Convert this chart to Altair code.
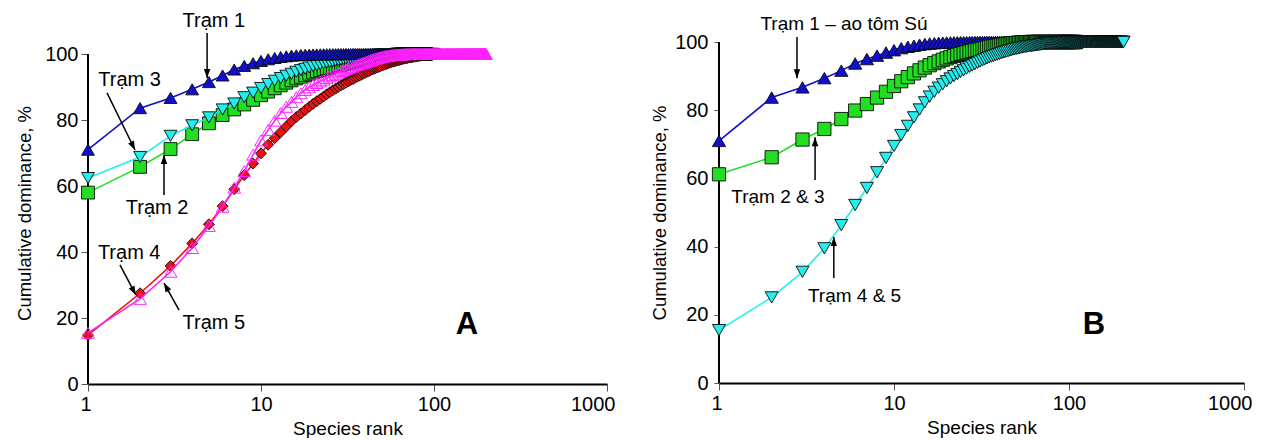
import math
import altair as alt
import pandas as pd

FONT = "Liberation Sans"

RANK_TICKS = [1, 10, 100, 1000]
PCT_TICKS = [0, 20, 40, 60, 80, 100]

# ---------------- Panel A (cumulative dominance, % by species rank) ----------------
A_TRAM1 = [71.0, 83.6, 86.7, 89.3, 91.5, 93.5, 95.3, 96.4, 97.2, 97.9,
           98.4, 98.8, 99.1, 99.3, 99.5, 99.6, 99.7, 99.75, 99.8, 99.85,
           99.88, 99.9, 99.92, 99.93, 99.94, 99.95, 99.96, 99.97, 99.97, 99.98] + [100.0] * 40
A_TRAM2 = [58.0, 65.8, 71.2, 75.7, 79.0, 81.5, 83.2, 84.7, 86.1, 87.5,
           88.6, 89.6, 90.5, 91.3, 92.0, 92.6, 93.1, 93.6, 94.0, 94.4,
           94.8, 95.1, 95.4, 95.7, 95.9, 96.1, 96.3, 96.5, 96.7, 96.9,
           97.1, 97.3, 97.4, 97.6, 97.7, 97.9, 98.0, 98.1, 98.2, 98.4,
           98.5, 98.6, 98.7, 98.8, 98.9, 99.0, 99.1, 99.2, 99.25, 99.3,
           99.35, 99.4, 99.45, 99.5, 99.55, 99.6, 99.65, 99.7, 99.72, 99.75,
           99.78, 99.8, 99.82, 99.84, 99.86, 99.88, 99.9, 99.92, 99.94, 99.96] + [100.0] * 20
A_TRAM3 = [62.4, 68.8, 75.2, 78.4, 80.8, 83.2, 85.0, 86.9, 88.3, 89.7,
           90.9, 91.9, 92.7, 93.4, 94.0, 94.6, 95.1, 95.5, 95.9, 96.3,
           96.6, 96.9, 97.2, 97.4, 97.6, 97.8, 98.0, 98.2, 98.3, 98.5,
           98.6, 98.7, 98.8, 98.9, 99.0, 99.1, 99.2, 99.3, 99.35, 99.4,
           99.45, 99.5, 99.55, 99.6, 99.65, 99.7, 99.73, 99.76, 99.79, 99.82,
           99.84, 99.86, 99.88, 99.9, 99.91, 99.92, 99.93, 99.94, 99.95, 99.96] + [100.0] * 40
A_TRAM4 = [14.8, 27.5, 35.8, 42.6, 48.4, 53.9, 59.0, 63.3, 66.8, 69.9,
           72.5, 74.5, 76.3, 78.0, 79.6, 80.9, 82.0, 83.0, 84.0, 84.9,
           85.7, 86.4, 87.1, 87.8, 88.4, 89.0, 89.5, 90.0, 90.5, 90.9,
           91.3, 91.7, 92.1, 92.4, 92.8, 93.1, 93.4, 93.7, 94.0, 94.3,
           94.6, 94.8, 95.1, 95.3, 95.5, 95.7, 95.9, 96.1, 96.3, 96.5,
           96.7, 96.85, 97.0, 97.15, 97.3, 97.45, 97.6, 97.7, 97.8, 97.9,
           98.0, 98.1, 98.2, 98.3, 98.4, 98.5, 98.6, 98.7, 98.75, 98.8,
           98.9, 98.95, 99.0, 99.05, 99.1, 99.15, 99.2, 99.25, 99.3, 99.35,
           99.4, 99.45, 99.5, 99.55, 99.6, 99.65, 99.7, 99.72, 99.75, 99.78,
           99.8, 99.83, 99.86, 99.88, 99.9, 99.92, 99.94, 99.96, 99.98, 100.0]
A_TRAM5 = [15.5, 25.8, 34.0, 41.2, 47.9, 53.7, 59.5, 64.5, 69.5, 73.8,
           77.0, 79.8, 82.1, 84.0, 85.5, 86.9, 88.1, 89.1, 89.9, 90.6,
           91.2, 91.7, 92.2, 92.7, 93.2, 93.6, 94.0, 94.4, 94.8, 95.1,
           95.4, 95.7, 96.0, 96.2, 96.5, 96.7, 96.9, 97.1, 97.3, 97.5,
           97.7, 97.9, 98.1, 98.3, 98.45, 98.6, 98.75, 98.9, 99.0, 99.1,
           99.2, 99.3, 99.38, 99.45, 99.52, 99.58, 99.64, 99.7, 99.74, 99.78,
           99.81, 99.84, 99.86, 99.88, 99.9, 99.92, 99.94, 99.95, 99.96, 99.97,
           99.98, 99.98, 99.99, 99.99, 99.99] + [100.0] * 125

# ---------------- Panel B ----------------
B_TRAM1 = [71.0, 83.7, 86.7, 89.4, 91.6, 93.7, 95.0, 96.0, 96.9, 97.6,
           98.2, 98.6, 98.9, 99.2, 99.4, 99.55, 99.65, 99.75, 99.8, 99.85,
           99.88, 99.9, 99.92, 99.94, 99.95, 99.96, 99.97, 99.98, 99.98, 99.99] + [100.0] * 40
B_TRAM23 = [61.2, 66.2, 71.4, 74.5, 77.4, 79.9, 81.8, 83.7, 85.4, 87.1,
            88.5, 89.7, 90.8, 91.7, 92.5, 93.2, 93.8, 94.3, 94.8, 95.2,
            95.6, 95.9, 96.2, 96.5, 96.7, 96.95, 97.15, 97.35, 97.55, 97.7,
            97.85, 98.0, 98.15, 98.3, 98.45, 98.6, 98.7, 98.8, 98.9, 99.0,
            99.1, 99.18, 99.26, 99.34, 99.42, 99.5, 99.56, 99.62, 99.68, 99.72,
            99.76, 99.8, 99.83, 99.86, 99.89, 99.92, 99.94, 99.96, 99.98, 99.99] + [100.0] * 50
B_TRAM45 = [15.5, 25.1, 32.6, 39.5, 46.3, 52.2, 57.2, 61.8, 66.0, 69.5,
            72.7, 75.4, 77.9, 80.2, 82.3, 84.0, 85.4, 86.6, 87.6, 88.5,
            89.3, 90.0, 90.6, 91.2, 91.7, 92.2, 92.7, 93.1, 93.5, 93.9,
            94.25, 94.6, 94.9, 95.2, 95.45, 95.7, 95.9, 96.1, 96.3, 96.5,
            96.7, 96.9, 97.05, 97.2, 97.35, 97.5, 97.65, 97.8, 97.9, 98.0,
            98.1, 98.2, 98.3, 98.4, 98.5, 98.55, 98.6, 98.7, 98.75, 98.8,
            98.85, 98.9, 98.95, 99.0, 99.05, 99.1, 99.15, 99.2, 99.25, 99.3,
            99.35, 99.4, 99.45, 99.5, 99.53, 99.56, 99.59, 99.62, 99.65, 99.68,
            99.7, 99.72, 99.74, 99.76, 99.78, 99.8, 99.82, 99.84, 99.86, 99.88,
            99.9, 99.91, 99.92, 99.93, 99.94, 99.95, 99.96, 99.97, 99.98, 99.99] + [100.0] * 105

# ---------------- Annotations (rank, %) ----------------
A_LABELS = ["Trạm 1", "Trạm 3", "Trạm 2", "Trạm 4", "Trạm 5"]
A_LABEL_RANK = [5.34, 1.74, 2.51, 1.73, 5.34]
A_LABEL_PCT = [110.0, 92.1, 53.3, 39.7, 18.5]
A_ARROW_R1 = [4.88, 1.288, 2.75, 1.53, 3.36]
A_ARROW_P1 = [106.4, 88.2, 57.3, 36.1, 22.4]
A_ARROW_R2 = [4.88, 1.87, 2.75, 1.89, 2.75]
A_ARROW_P2 = [92.7, 70.9, 69.4, 27.0, 30.6]

B_LABELS = ["Trạm 1 – ao tôm Sú", "Trạm 2 & 3", "Trạm 4 & 5"]
B_LABEL_RANK = [5.18, 2.17, 5.95]
B_LABEL_PCT = [105.3, 54.5, 25.5]
B_ARROW_R1 = [2.79, 3.54, 4.53]
B_ARROW_P1 = [101.5, 59.5, 30.8]
B_ARROW_R2 = [2.79, 3.54, 4.53]
B_ARROW_P2 = [89.4, 72.1, 42.8]

LETTER_A = ("A", 155.0, 17.9)
LETTER_B = ("B", 139.0, 17.0)

ARROW_HEAD = "M0,0L-0.36,1L0.36,1Z"


def series_layers(values, color, shape, size, filled, xs, ys):
    df = pd.DataFrame({"rank": list(range(1, len(values) + 1)), "pct": values})
    base = alt.Chart(df)
    line = base.mark_line(color=color, strokeWidth=1.6).encode(x=xs, y=ys)
    if filled:
        pts = base.mark_point(shape=shape, size=size, filled=True, fill=color,
                              stroke="#0a0a0a", strokeWidth=0.9, opacity=1).encode(x=xs, y=ys)
    else:
        pts = base.mark_point(shape=shape, size=size, filled=False, stroke=color,
                              strokeWidth=1.0, opacity=1).encode(x=xs, y=ys)
    return [line, pts]


def arrow_layers(r1, p1, r2, p2, w, pxu):
    angles = []
    for a, b, c, d in zip(r1, p1, r2, p2):
        dx = (math.log10(c) - math.log10(a)) * w / 3.0
        dy = -(d - b) * pxu
        angles.append((math.degrees(math.atan2(dx, -dy)) + 360) % 360)
    df = pd.DataFrame({"r1": r1, "p1": p1, "r2": r2, "p2": p2, "ang": angles})
    base = alt.Chart(df)
    rule = base.mark_rule(color="black", strokeWidth=1.5).encode(
        x=alt.X("r1:Q"), y=alt.Y("p1:Q"), x2="r2", y2="p2")
    head = base.mark_point(shape=ARROW_HEAD, size=324, filled=True, color="black",
                           opacity=1, strokeWidth=0).encode(
        x="r2:Q", y="p2:Q", angle=alt.Angle("ang:Q", scale=None))
    return [rule, head]


def panel(series, labels, lrank, lpct, lsize, arrows, letter, w, h, ytop,
          ytitle_pad, ylabel_pad, ytick):
    xs = alt.X("rank:Q", scale=alt.Scale(type="log", domain=[1, 1000], nice=False),
               axis=alt.Axis(values=RANK_TICKS, format="d", title="Species rank",
                             grid=False, tickSize=7, labelPadding=3, titlePadding=5,
                             labelFlush=True, labelFlushOffset=8))
    ys = alt.Y("pct:Q", scale=alt.Scale(domain=[0, ytop], nice=False, zero=True),
               axis=alt.Axis(values=PCT_TICKS, title="Cumulative dominance, %",
                             grid=False, domain=False, tickSize=ytick,
                             labelPadding=ylabel_pad, titlePadding=ytitle_pad))
    # y-axis line drawn from 0 % to 100 % at rank 1
    adf = pd.DataFrame({"rank": [1.0], "p0": [0.0], "p1": [100.0]})
    layers = [alt.Chart(adf).mark_rule(color="black", strokeWidth=2).encode(
        x=xs, y=alt.Y("p0:Q", scale=alt.Scale(domain=[0, ytop], nice=False)), y2="p1")]
    for s in series:
        layers += series_layers(*s, xs, ys)
    layers += arrow_layers(*arrows, w, h / ytop)
    tdf = pd.DataFrame({"rank": lrank, "pct": lpct, "label": labels})
    layers.append(alt.Chart(tdf).mark_text(font=FONT, fontSize=lsize, align="center",
                                           baseline="middle", color="black").encode(
        x="rank:Q", y="pct:Q", text="label:N"))
    ldf = pd.DataFrame({"rank": [letter[1]], "pct": [letter[2]], "label": [letter[0]]})
    layers.append(alt.Chart(ldf).mark_text(font=FONT, fontSize=31, fontWeight="bold",
                                           align="center", baseline="middle",
                                           color="black").encode(
        x="rank:Q", y="pct:Q", text="label:N"))
    return alt.layer(*layers).properties(width=w, height=h)


LW, LH = 519, 342
RW, RH = 525, 341

left = panel(
    [
        (A_TRAM2, "#22dd22", "square", 165, True),
        (A_TRAM3, "#22eeee", "triangle-down", 165, True),
        (A_TRAM1, "#1010cc", "triangle-up", 165, True),
        (A_TRAM4, "#ee1111", "diamond", 120, True),
        (A_TRAM5, "#ff22ff", "triangle-up", 160, False),
    ],
    A_LABELS, A_LABEL_RANK, A_LABEL_PCT, 20,
    (A_ARROW_R1, A_ARROW_P1, A_ARROW_R2, A_ARROW_P2),
    LETTER_A, LW, LH, 100.0 * 342 / 330, 10, 3, 7,
)

right = panel(
    [
        (B_TRAM1, "#1010cc", "triangle-up", 175, True),
        (B_TRAM23, "#22dd22", "square", 175, True),
        (B_TRAM45, "#22eeee", "triangle-down", 170, True),
    ],
    B_LABELS, B_LABEL_RANK, B_LABEL_PCT, 19,
    (B_ARROW_R1, B_ARROW_P1, B_ARROW_R2, B_ARROW_P2),
    LETTER_B, RW, RH, 100.0, 5, 6, 5,
)

chart = alt.hconcat(left, right, spacing=35).properties(
    padding={"left": 15, "top": 11, "right": 5, "bottom": 0},
    background="white",
).configure_view(stroke=None).configure_axis(
    domainColor="black", domainWidth=2, tickColor="#555555", tickWidth=1,
    labelFont=FONT, labelFontSize=20, labelColor="black",
    titleFont=FONT, titleFontSize=19, titleFontWeight="normal", titleColor="black",
).configure_axisY(titleFontSize=18.5)

chart.save("out.html", embed_options={"renderer": "svg", "actions": False})
